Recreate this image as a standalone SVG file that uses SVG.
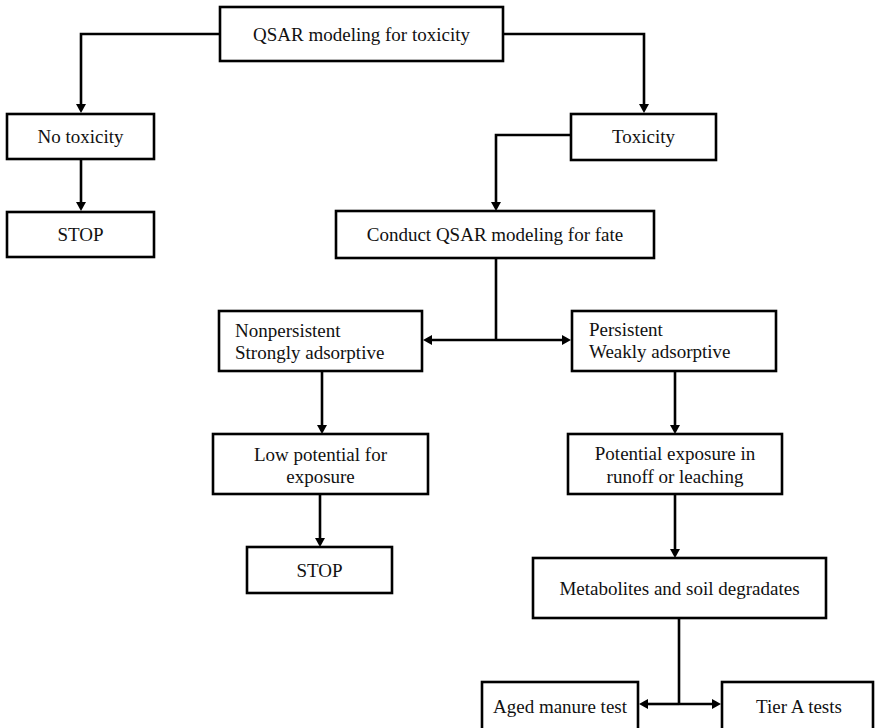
<svg xmlns="http://www.w3.org/2000/svg" width="875" height="728" viewBox="0 0 875 728">
  <style>
    .box { fill: #ffffff; stroke: #000000; stroke-width: 2.6; }
    .lbl { font-family: "Liberation Serif", "Times New Roman", serif; font-size: 19px; fill: #111111; }
    .mid { text-anchor: middle; }
    .wire { fill: none; stroke: #000000; stroke-width: 2.6; }
  </style>
  <defs>
    <marker id="tip" markerUnits="userSpaceOnUse" markerWidth="9" markerHeight="10" refX="0" refY="5" orient="auto">
      <path d="M0,0 L9,5 L0,10 z" fill="#000000"/>
    </marker>
  </defs>

  <rect width="875" height="728" fill="#ffffff"/>

  <!-- connectors -->
  <g id="connectors">
    <path class="wire" d="M220,34 H81 V104" marker-end="url(#tip)"/>
    <path class="wire" d="M503,34 H644 V104" marker-end="url(#tip)"/>
    <path class="wire" d="M81,159 V202" marker-end="url(#tip)"/>
    <path class="wire" d="M571,135 H496 V202" marker-end="url(#tip)"/>
    <path class="wire" d="M496,258 V340"/>
    <path class="wire" d="M496,340 H432" marker-end="url(#tip)"/>
    <path class="wire" d="M496,340 H562" marker-end="url(#tip)"/>
    <path class="wire" d="M322,371 V425" marker-end="url(#tip)"/>
    <path class="wire" d="M320,494 V538" marker-end="url(#tip)"/>
    <path class="wire" d="M675,371 V425" marker-end="url(#tip)"/>
    <path class="wire" d="M675,494 V549" marker-end="url(#tip)"/>
    <path class="wire" d="M679,618 V704"/>
    <path class="wire" d="M679,704 H648" marker-end="url(#tip)"/>
    <path class="wire" d="M679,704 H712" marker-end="url(#tip)"/>
  </g>

  <!-- nodes -->
  <g id="qsar-toxicity">
    <rect class="box" x="220" y="7" width="283" height="54"/>
    <text class="lbl mid" x="361.5" y="41">QSAR modeling for toxicity</text>
  </g>
  <g id="no-toxicity">
    <rect class="box" x="7" y="114" width="147" height="45"/>
    <text class="lbl mid" x="80.5" y="143">No toxicity</text>
  </g>
  <g id="stop-left">
    <rect class="box" x="7" y="212" width="147" height="45"/>
    <text class="lbl mid" x="80.5" y="241">STOP</text>
  </g>
  <g id="toxicity">
    <rect class="box" x="571" y="114" width="145" height="46"/>
    <text class="lbl mid" x="643.5" y="143">Toxicity</text>
  </g>
  <g id="qsar-fate">
    <rect class="box" x="336" y="211" width="318" height="47"/>
    <text class="lbl mid" x="495" y="241">Conduct QSAR modeling for fate</text>
  </g>
  <g id="nonpersistent">
    <rect class="box" x="219" y="311" width="203" height="60"/>
    <text class="lbl" x="235" y="337">Nonpersistent</text>
    <text class="lbl" x="235" y="359">Strongly adsorptive</text>
  </g>
  <g id="persistent">
    <rect class="box" x="572" y="311" width="204" height="60"/>
    <text class="lbl" x="589" y="336">Persistent</text>
    <text class="lbl" x="589" y="358">Weakly adsorptive</text>
  </g>
  <g id="low-potential">
    <rect class="box" x="213" y="434" width="215" height="60"/>
    <text class="lbl mid" x="320.5" y="461">Low potential for</text>
    <text class="lbl mid" x="320.5" y="483">exposure</text>
  </g>
  <g id="potential-exposure">
    <rect class="box" x="568" y="434" width="214" height="60"/>
    <text class="lbl mid" x="675" y="460">Potential exposure in</text>
    <text class="lbl mid" x="675" y="483">runoff or leaching</text>
  </g>
  <g id="stop-middle">
    <rect class="box" x="247" y="547" width="145" height="46"/>
    <text class="lbl mid" x="319.5" y="577">STOP</text>
  </g>
  <g id="metabolites">
    <rect class="box" x="533" y="558" width="293" height="60"/>
    <text class="lbl mid" x="679.5" y="595">Metabolites and soil degradates</text>
  </g>
  <g id="aged-manure">
    <rect class="box" x="482" y="682" width="156" height="50"/>
    <text class="lbl mid" x="560" y="713">Aged manure test</text>
  </g>
  <g id="tier-a">
    <rect class="box" x="722" y="682" width="151" height="50"/>
    <text class="lbl mid" x="799" y="713">Tier A tests</text>
  </g>
</svg>
